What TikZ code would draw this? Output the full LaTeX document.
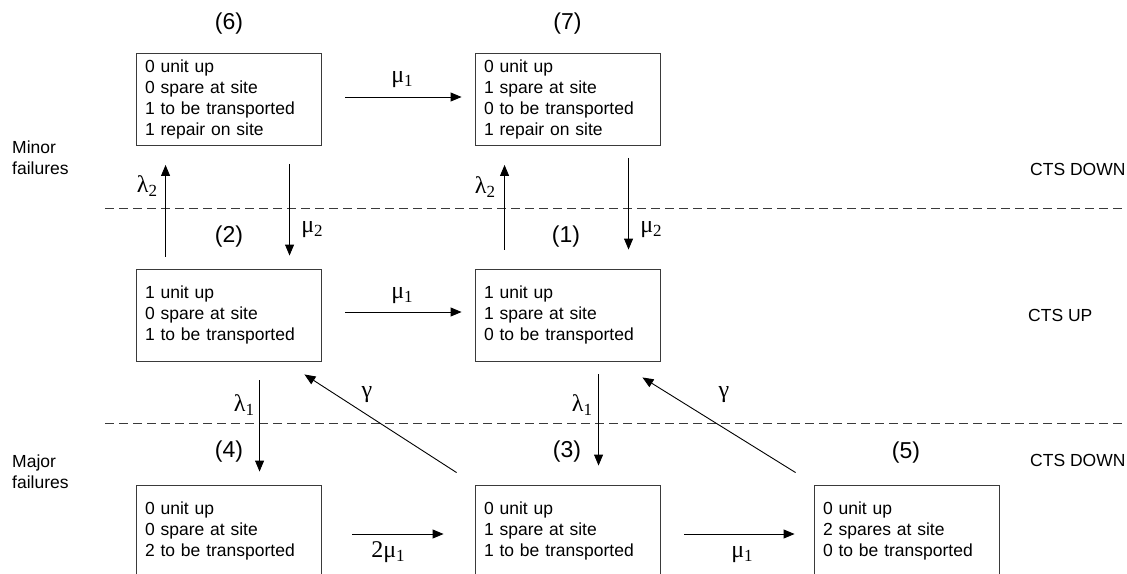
\documentclass[tikz,border=0pt]{standalone}
\usepackage{fontspec}
\setmainfont{Liberation Sans}
\newfontfamily\gk{Liberation Serif}
\usetikzlibrary{arrows.meta,calc}
\newcommand{\gl}[2]{{\gk\fontsize{24}{24}\selectfont #1\raisebox{-4pt}{\fontsize{17}{17}\selectfont #2}}}
\definecolor{edge}{HTML}{3A3A3A}
\tikzset{
  state/.style={draw=edge, line width=0.9pt, minimum width=185pt, minimum height=92pt,
    text width=167pt, inner xsep=9pt, inner ysep=0pt, align=left,
    font=\fontsize{17.5}{21}\selectfont},
  num/.style={font=\fontsize{23}{23}\selectfont, inner sep=0pt},
  side/.style={font=\fontsize{17.5}{21}\selectfont, inner sep=0pt, align=left, anchor=west},
  rate/.style={inner sep=0pt},
  arr/.style={-{Triangle[length=11pt,width=9pt]}, line width=0.9pt, black},
  sep/.style={draw=edge, line width=0.9pt, dash pattern=on 9pt off 5pt}
}
\begin{document}
\begin{tikzpicture}[x=1pt,y=-1pt]
\useasboundingbox (0,0) rectangle (1127,573);
\clip (0,0) rectangle (1127,573);
% states
\node[state] (s6) at (228.5,99.5) {0 unit up\\0 spare at site\\1 to be transported\\1 repair on site};
\node[state] (s7) at (567.5,99.5) {0 unit up\\1 spare at site\\0 to be transported\\1 repair on site};
\node[state] (s2) at (228.5,315) {1 unit up\\0 spare at site\\1 to be transported};
\node[state] (s1) at (567.5,315) {1 unit up\\1 spare at site\\0 to be transported};
\node[state] (s4) at (228.5,531) {0 unit up\\0 spare at site\\2 to be transported};
\node[state] (s3) at (567.5,531) {0 unit up\\1 spare at site\\1 to be transported};
\node[state] (s5) at (906.5,531) {0 unit up\\2 spares at site\\0 to be transported};
% state numbers
\node[num] (n6) at (229,24) {(6)};
\node[num] (n7) at (567.5,24) {(7)};
\node[num] (n2) at (229,237) {(2)};
\node[num] (n1) at (566,237) {(1)};
\node[num] (n4) at (229,452) {(4)};
\node[num] (n3) at (567,452) {(3)};
\node[num] (n5) at (906,453) {(5)};
% separators
\draw[sep] (105,208) -- (1127,208);
\draw[sep] (105,423) -- (1127,423);
% side texts
\node[side] (minor) at (12,157.5) {Minor\\failures};
\node[side] (major) at (12,471.5) {Major\\failures};
\node[side] (ctsd1) at (1030,169) {CTS DOWN};
\node[side] (ctsu) at (1028,315) {CTS UP};
\node[side] (ctsd2) at (1030,460) {CTS DOWN};
% transitions
\draw[arr] ($(s6.east)+(24,-2.5)$) -- ($(s7.west)+(-13,-2.5)$);
\draw[arr] ($(s2.east)+(24,-3)$) -- ($(s1.west)+(-13,-3)$);
\draw[arr] ($(s2.north west)+(30,-12)$) -- ($(s6.south west)+(30,19)$);
\draw[arr] ($(s6.south west)+(154,18)$) -- ($(s2.north west)+(154,-13)$);
\draw[arr] ($(s1.north west)+(30,-19)$) -- ($(s7.south west)+(30,19)$);
\draw[arr] ($(s7.south west)+(154,12)$) -- ($(s1.north west)+(154,-19)$);
\draw[arr] ($(s2.south west)+(124,19)$) -- ($(s4.north west)+(124,-13)$);
\draw[arr] ($(s1.south west)+(124,13)$) -- ($(s3.north west)+(124,-19)$);
\draw[arr] ($(s3.north west)+(-18,-12)$) -- ($(s2.south east)+(-17,13)$);
\draw[arr] ($(s5.north west)+(-18,-12)$) -- ($(s1.south east)+(-18,16)$);
\draw[arr] ($(s4.east)+(31,3)$) -- ($(s3.west)+(-31,3)$);
\draw[arr] ($(s3.east)+(24,3)$) -- ($(s5.west)+(-19,3)$);
% rate labels
\node[rate] (r67) at (402,80) {\gl{μ}{1}};
\node[rate] (r21) at (402,296) {\gl{μ}{1}};
\node[rate] (r26) at (147,186) {\gl{λ}{2}};
\node[rate] (r62) at (312,230) {\gl{μ}{2}};
\node[rate] (r17) at (485,187) {\gl{λ}{2}};
\node[rate] (r71) at (651,230) {\gl{μ}{2}};
\node[rate] (r24) at (244,405) {\gl{λ}{1}};
\node[rate] (r13) at (582,405) {\gl{λ}{1}};
\node[rate] (r32) at (367,395) {\gl{γ}{}};
\node[rate] (r51) at (724,395) {\gl{γ}{}};
\node[rate] (r43) at (388,552) {\gl{2μ}{1}};
\node[rate] (r35) at (742,555) {\gl{μ}{1}};
\end{tikzpicture}
\end{document}
